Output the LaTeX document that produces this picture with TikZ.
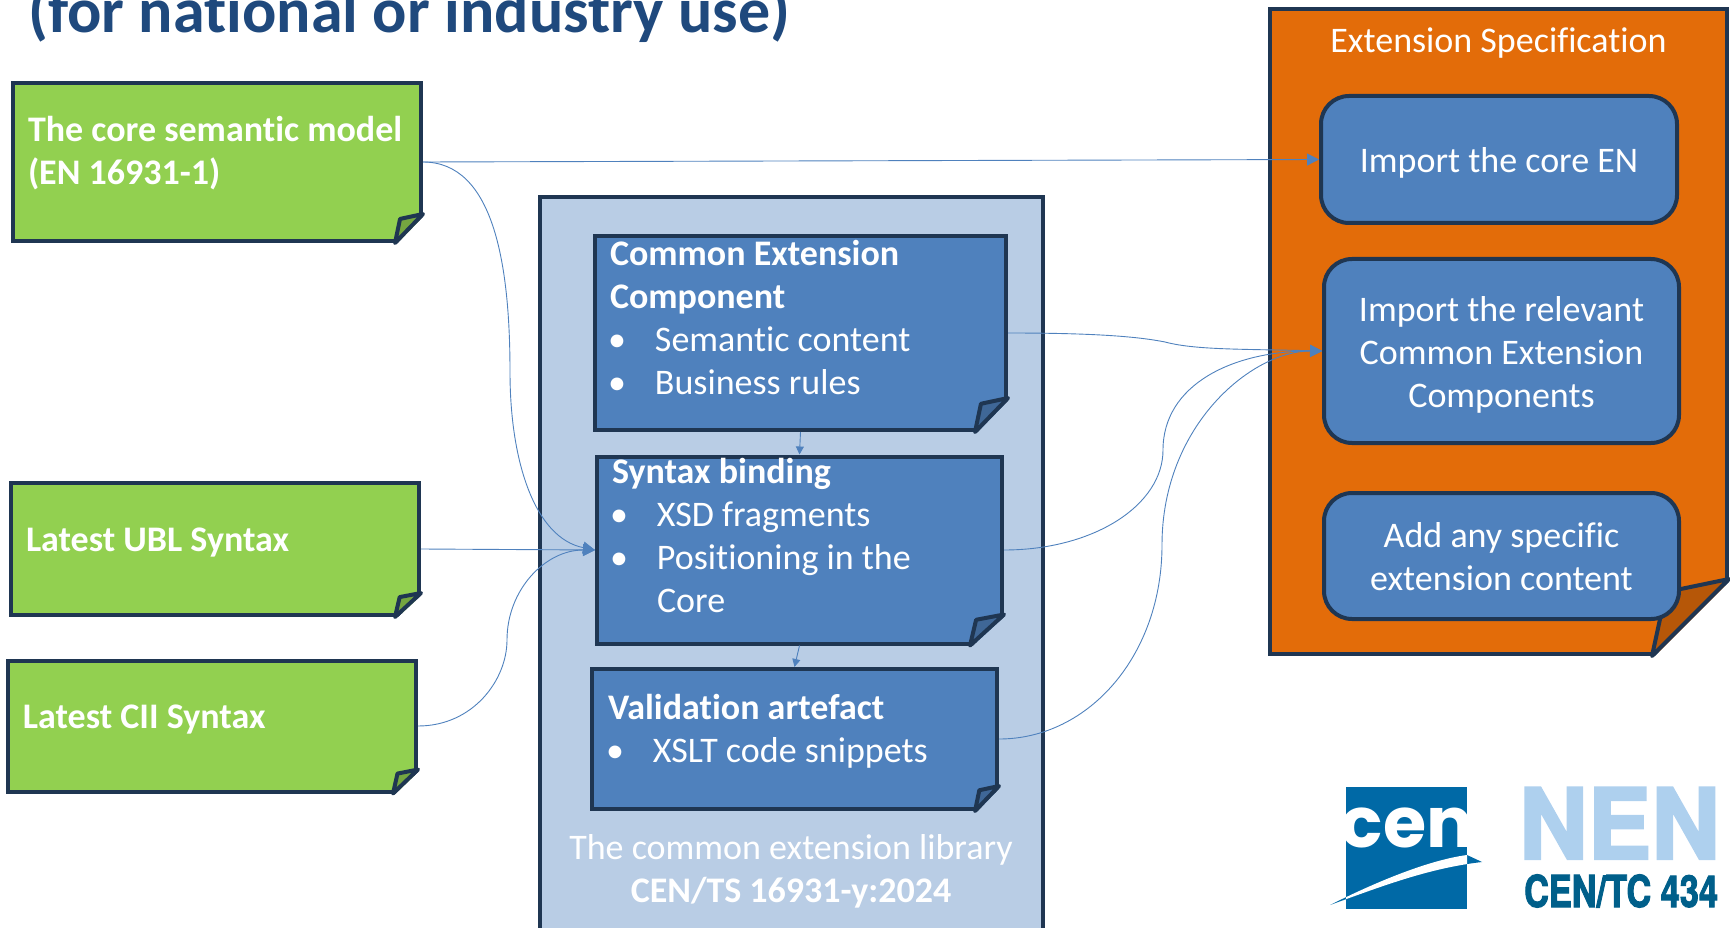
\documentclass[tikz,border=0pt]{standalone}
\usepackage{fontspec}
\setmainfont{Carlito}[Ligatures=CommonOff]
\newfontfamily\logofont{Poppins}
\newfontfamily\nenfont[BoldFeatures={FakeBold=2.5}]{TeX Gyre Heros}
\usetikzlibrary{arrows.meta}

\definecolor{edgedark}{HTML}{1F3652}
\definecolor{greenfill}{HTML}{92D050}
\definecolor{greenfold}{HTML}{75A640}
\definecolor{bluefill}{HTML}{4F81BD}
\definecolor{bluefold}{HTML}{3F6797}
\definecolor{orangefill}{HTML}{E36C09}
\definecolor{orangefold}{HTML}{B65708}
\definecolor{libfill}{HTML}{B9CDE5}
\definecolor{titleblue}{HTML}{1F497D}
\definecolor{cenblue}{HTML}{0069A6}
\definecolor{nenlight}{HTML}{AED0EE}
\definecolor{nendark}{HTML}{005F8A}

\tikzset{
  notebox/.style={draw=edgedark, line width=4pt, inner sep=0pt, text=white, shape=rectangle},
  greennote/.style={notebox, fill=greenfill},
  bluenote/.style={notebox, fill=bluefill},
  roundbox/.style={notebox, fill=bluefill, rounded corners=28pt},
  conn/.style={draw=bluefill, line width=0.9pt, -{Triangle[length=12pt, width=12pt]}},
  shortconn/.style={draw=bluefill, line width=0.9pt, -{Triangle[length=8pt, width=8pt]}}
}

% top aligned text: width, height, first baseline, content
\newcommand{\boxtext}[4]{\parbox[c][#2pt][t]{#1pt}{\rule{0pt}{#3pt}#4}}
% folded corner of a note: node, dx, dy, colour, colour behind
\newcommand{\foldcorner}[5]{
  \fill [#5]
    ([xshift=3pt, yshift=#3pt]#1.east |- #1.south)
    -- ([xshift=3pt, yshift=-3pt]#1.east |- #1.south)
    -- ([xshift=-#2pt, yshift=-3pt]#1.east |- #1.south)
    -- cycle;
  \draw [draw=edgedark, line width=4pt, line join=round, fill=#4]
    ([yshift=#3pt]#1.east |- #1.south)
    -- ([xshift=-0.82*#2pt, yshift=0.83*#3pt]#1.east |- #1.south)
    -- ([xshift=-#2pt]#1.east |- #1.south)
    -- cycle;
}
\newcommand{\itm}[1]{\hspace*{-2pt}\makebox[47pt][l]{\textbullet}#1}

\begin{document}
\begin{tikzpicture}[x=1pt, y=-1pt, font=\fontsize{36}{43}\selectfont]
\useasboundingbox (0,0) rectangle (1730,928);

\node [text=titleblue, anchor=base west, inner sep=0pt, font=\fontsize{64}{70}\selectfont\bfseries] (slidetitle) at (28,33) {(for national or industry use)};

% left column
\node [greennote, minimum width=408pt, minimum height=158pt] (coremodel) at (217,162)
  {\boxtext{378}{154}{57}{\textbf{The core semantic model\\(EN 16931-1)}}};
\node [greennote, minimum width=408pt, minimum height=132pt] (ublsyntax) at (215,549)
  {\boxtext{378}{128}{66}{\textbf{Latest UBL Syntax}}};
\node [greennote, minimum width=408pt, minimum height=131pt] (ciisyntax) at (212,726)
  {\boxtext{378}{127}{66}{\textbf{Latest CII Syntax}}};
\foldcorner{coremodel}{28}{29}{greenfold}{white}
\foldcorner{ublsyntax}{26}{24}{greenfold}{white}
\foldcorner{ciisyntax}{25}{24}{greenfold}{white}

% library
\node [notebox, fill=libfill, minimum width=503pt, minimum height=780pt] (library) at (791.5,587) {};
\node [text=white, align=center] (libname) at (791,871) {The common extension library\\\textbf{CEN/TS 16931-y:2024}};

\node [bluenote, minimum width=411pt, minimum height=194pt] (component) at (800.5,333)
  {\boxtext{381}{190}{27}{\textbf{Common Extension\\Component}\\\itm{Semantic content}\\\itm{Business rules}}};
\node [bluenote, minimum width=405pt, minimum height=187pt] (binding) at (799.5,550)
  {\boxtext{375}{183}{25}{\textbf{Syntax binding}\\\itm{XSD fragments}\\\itm{Positioning in the}\\\hspace*{45pt}Core}};
\node [bluenote, minimum width=405pt, minimum height=140pt] (artefact) at (794.5,739)
  {\boxtext{373}{136}{48}{\textbf{Validation artefact}\\\itm{XSLT code snippets}}};
\foldcorner{component}{33}{34}{bluefold}{libfill}
\foldcorner{binding}{34}{31}{bluefold}{libfill}
\foldcorner{artefact}{24}{25}{bluefold}{libfill}

% extension specification
\node [notebox, fill=orangefill, minimum width=457pt, minimum height=645pt] (extension) at (1498.5,331.5)
  {\boxtext{400}{640}{41}{\centering Extension Specification}};
\foldcorner{extension}{77}{77}{orangefold}{white}
\node [roundbox, minimum width=356pt, minimum height=127pt] (importcore) at (1499,159.5)
  {\boxtext{340}{123}{75}{\centering Import the core EN}};
\node [roundbox, minimum width=355pt, minimum height=184pt] (importcomp) at (1501.5,351)
  {\boxtext{340}{180}{60}{\centering Import the relevant\\Common Extension\\Components}};
\node [roundbox, minimum width=355pt, minimum height=126pt] (addcontent) at (1501.5,556)
  {\boxtext{340}{122}{52}{\centering Add any specific\\extension content}};

% connectors
\coordinate (coremid) at (510,372);
\coordinate (ciimid) at (507,640);
\coordinate (compmid) at (1165,342);
\coordinate (bindmid) at (1163,450);
\coordinate (artemid) at (1162,545);
\draw [conn] (coremodel.east) -- (importcore.west);
\draw [conn] (coremodel.east) .. controls +(70,0) and +(0,-110) .. (coremid) .. controls +(0,90) and +(-60,-12) .. (binding.west);
\draw [conn] (ublsyntax.east) -- (binding.west);
\draw [conn] (ciisyntax.east) .. controls +(55,0) and +(0,40) .. (ciimid) .. controls +(0,-50) and +(-50,0) .. (binding.west);
\draw [conn] (component.east) .. controls +(80,0) and +(-30,-6) .. (compmid) .. controls +(30,8) and +(-80,-2) .. (importcomp.west);
\draw [conn] (binding.east) .. controls +(90,0) and +(0,55) .. (bindmid) .. controls +(0,-65) and +(-90,0) .. (importcomp.west);
\draw [conn] (artefact.east) .. controls +(90,0) and +(0,110) .. (artemid) .. controls +(0,-120) and +(-70,0) .. (importcomp.west);
\draw [shortconn] (component.south) -- (binding.north);
\draw [shortconn] (binding.south) -- (artefact.north);

% logos
\fill [cenblue] (1330,905) .. controls (1380,880) and (1430,860) .. (1467,855) -- (1482,862) .. controls (1430,868) and (1385,885) .. cycle;
\node [fill=cenblue, shape=rectangle, minimum width=121pt, minimum height=122pt, inner sep=0pt] (censquare) at (1406.5,848) {};
\node [text=white, anchor=base, font=\fontsize{70}{70}\logofont\bfseries\selectfont] (cenword) at (1407,847) {cen};
\begin{scope}
\clip (1346,787) rectangle (1467,909);
\fill [white] (1330,905) .. controls (1380,880) and (1430,860) .. (1467,855) -- (1482,862) .. controls (1430,868) and (1385,885) .. cycle;
\end{scope}
\node [text=nenlight, anchor=base west, inner sep=0pt, xscale=0.97, font=\fontsize{98}{98}\nenfont\bfseries\selectfont] (nenword) at (1519,859) {NEN};
\node [text=nendark, anchor=base west, inner sep=0pt, xscale=0.78, font=\fontsize{44}{44}\nenfont\bfseries\selectfont] (tcword) at (1524,907) {CEN/TC 434};
\end{tikzpicture}
\end{document}
